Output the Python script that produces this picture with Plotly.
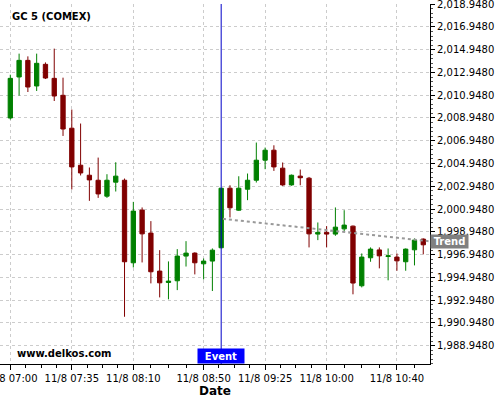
import plotly.graph_objects as go
import pandas as pd

# ---- data ----
start_time = "2023-11-08 07:00"
times = pd.date_range(start_time, periods=48, freq="5min")

opens = [2008.95, 2012.55, 2014.01, 2011.76, 2013.66, 2012.43, 2010.94, 2008.05,
         2004.80, 2003.92, 2003.48, 2002.08, 2003.31, 2003.48, 1996.23, 2000.86,
         1998.84, 1995.50, 1994.50, 1994.65, 1996.82, 1997.08, 1996.14, 1996.38,
         1997.55, 2002.78, 2000.85, 2002.69, 2003.48, 2005.24, 2006.12, 2004.54,
         2003.07, 2003.84, 2003.66, 1998.75, 1998.90, 1998.75, 1999.21, 1999.45,
         1994.21, 1996.67, 1997.36, 1996.78, 1996.73, 1996.32, 1997.37, 1998.31]
highs = [2012.75, 2014.60, 2014.36, 2014.60, 2013.83, 2015.04, 2012.49, 2009.69,
         2008.46, 2004.60, 2005.47, 2004.01, 2005.06, 2003.63, 2001.58, 2001.09,
         1999.89, 1997.34, 1996.35, 1997.43, 1998.13, 1997.15, 1996.61, 1997.49,
         2002.80, 2003.04, 2003.83, 2004.07, 2006.79, 2006.35, 2006.55, 2005.04,
         2003.98, 2004.42, 2003.77, 1999.77, 1999.45, 2001.09, 2000.85, 1999.50,
         1997.05, 1997.58, 1997.58, 1997.49, 1997.05, 1997.49, 1998.37, 1998.37]
lows = [2008.81, 2010.91, 2011.23, 2011.32, 2012.37, 2010.44, 2007.37, 2002.67,
        2003.90, 2001.67, 2001.93, 2001.93, 2002.49, 1991.49, 1995.82, 1996.26,
        1994.42, 1993.19, 1993.02, 1993.83, 1995.90, 1995.21, 1994.77, 1993.75,
        1997.50, 2000.21, 2000.79, 2001.73, 2003.28, 2004.45, 2004.30, 2002.98,
        2003.00, 2003.04, 1997.58, 1998.22, 1997.58, 1998.60, 1998.95, 1993.46,
        1994.07, 1996.32, 1995.74, 1994.69, 1995.53, 1995.53, 1996.00, 1996.97]
closes = [2012.43, 2014.01, 2011.67, 2013.75, 2012.46, 2010.88, 2007.98, 2004.65,
          2004.12, 2003.51, 2002.28, 2003.48, 2003.84, 1996.32, 2000.77, 1998.77,
          1995.44, 1994.47, 1994.62, 1996.82, 1997.08, 1996.23, 1996.38, 1997.34,
          2002.78, 2001.06, 2002.78, 2003.48, 2005.24, 2006.12, 2004.65, 2003.07,
          2003.92, 2003.70, 1998.77, 1998.90, 1998.75, 1999.36, 1999.54, 1994.45,
          1996.73, 1997.43, 1996.84, 1996.84, 1996.40, 1997.43, 1998.22, 1997.81]

trend_times = ["2023-11-08 09:01", "2023-11-08 10:58"]
trend_values = [2000.09, 1998.13]

event_time = "2023-11-08 09:00"

x_tick_times = ["2023-11-08 07:00", "2023-11-08 07:35", "2023-11-08 08:10",
                "2023-11-08 08:50", "2023-11-08 09:25", "2023-11-08 10:00",
                "2023-11-08 10:40"]
x_tick_labels = ["11/8 07:00", "11/8 07:35", "11/8 08:10", "11/8 08:50",
                 "11/8 09:25", "11/8 10:00", "11/8 10:40"]

x_range = ["2023-11-08 06:54:08", "2023-11-08 10:58:50"]
y_range = [1987.34, 2018.96]

# minor x ticks: quarter subdivisions of major intervals
tt = pd.to_datetime(x_tick_times)
minor_x = []
for a, b in zip(tt[:-1], tt[1:]):
    for k in (1, 2, 3):
        minor_x.append(a + (b - a) * k / 4)
minor_x.append(tt[-1] + (tt[-1] - tt[-2]) / 4)
minor_x.insert(0, tt[0] - (tt[1] - tt[0]) / 4)

FONT = "DejaVu Sans"
GREEN = "#008000"
RED = "#800000"

fig = go.Figure()
fig.add_trace(go.Candlestick(
    x=times, open=opens, high=highs, low=lows, close=closes,
    increasing=dict(line=dict(color=GREEN, width=1), fillcolor=GREEN),
    decreasing=dict(line=dict(color=RED, width=1), fillcolor=RED),
    showlegend=False, hoverinfo="skip",
))
fig.add_trace(go.Scatter(
    x=trend_times, y=trend_values, mode="lines",
    line=dict(color="#999999", width=2, dash="dot"),
    showlegend=False, hoverinfo="skip",
))

fig.add_shape(type="line", xref="x", yref="paper", x0=event_time, x1=event_time,
              y0=0, y1=1, line=dict(color="#0000c8", width=1))

grid = dict(gridcolor="#cccccc", gridwidth=1, griddash="3px,3px")

fig.update_layout(
    width=500, height=400,
    margin=dict(l=0, r=70, t=4, b=36, autoexpand=False),
    paper_bgcolor="white", plot_bgcolor="white",
    font=dict(family=FONT, size=10, color="black"),
    showlegend=False,
    xaxis=dict(
        range=x_range, type="date", rangeslider=dict(visible=False),
        automargin=False, ticklabeloverflow="allow",
        tickvals=x_tick_times, ticktext=x_tick_labels,
        ticks="outside", ticklen=5, tickcolor="black",
        showline=True, linecolor="black", linewidth=1,
        showgrid=True, zeroline=False, **grid,
        minor=dict(tickvals=minor_x, ticks="outside", ticklen=3,
                   tickcolor="black", showgrid=False),
        title=dict(text="<b>Date</b>", font=dict(size=12), standoff=0),
        tickfont=dict(size=10),
    ),
    yaxis=dict(
        range=y_range, side="right", automargin=False, ticklabeloverflow="allow",
        tick0=1988.948, dtick=2, tickformat=",.4f",
        ticks="outside", ticklen=4, tickcolor="black",
        showline=True, linecolor="black", linewidth=1,
        showgrid=True, zeroline=False, **grid,
        minor=dict(tick0=1988.948, dtick=0.4, ticks="outside", ticklen=2,
                   tickcolor="#555555", showgrid=False),
        tickfont=dict(size=10),
    ),
)

fig.add_annotation(xref="paper", yref="paper", x=0.023, y=0.965,
                   xanchor="left", yanchor="middle", showarrow=False,
                   text="<b>GC 5 (COMEX)</b>", font=dict(size=10, color="black"))
fig.add_annotation(xref="paper", yref="paper", x=0.035, y=0.028,
                   xanchor="left", yanchor="middle", showarrow=False,
                   text="<b>www.delkos.com</b>", font=dict(size=10, color="black"))
fig.add_annotation(xref="x", yref="paper", x=event_time, y=0,
                   xanchor="center", yanchor="bottom", showarrow=False,
                   text="<b>Event</b>", font=dict(size=10, color="white"),
                   bgcolor="#0000ff", width=44, height=12, borderpad=1)
fig.add_annotation(xref="paper", yref="y", x=1, y=trend_values[-1],
                   xanchor="left", yanchor="middle", showarrow=False,
                   text="<b>Trend</b>", font=dict(size=10, color="white"),
                   bgcolor="#808080", width=35, height=11, borderpad=1)

fig.write_html("out.html", config={"displayModeBar": False},
               post_script="document.body.style.margin='0px';document.body.style.overflow='hidden';")
